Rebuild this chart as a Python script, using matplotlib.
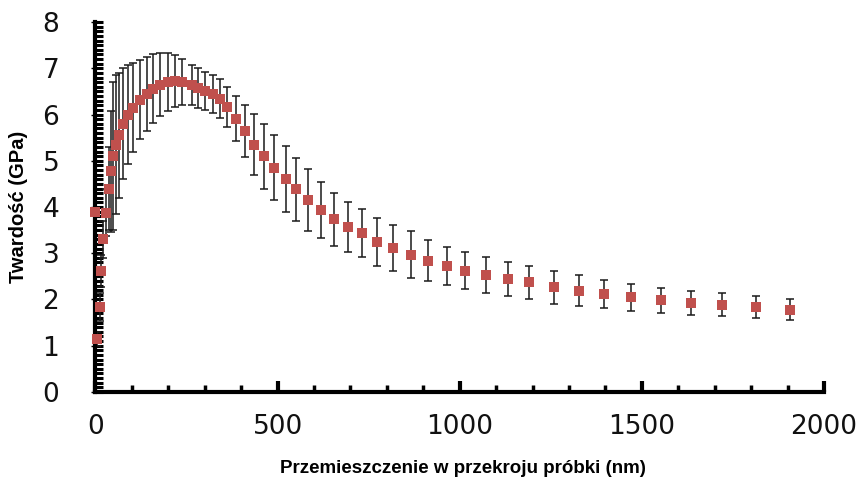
import matplotlib
matplotlib.use('Agg')
import matplotlib.pyplot as plt
from matplotlib.ticker import MultipleLocator

# depth across the sample cross-section (nm)
depth = [0, 5, 12, 14, 21, 29, 36, 43, 49, 56,
         65, 76, 90, 104, 122, 141, 159, 177, 200, 218,
         237, 264, 282, 301, 322, 342, 362, 386, 411, 436,
         463, 491, 522, 551, 584, 620, 655, 694, 732, 773,
         816, 866, 913, 965, 1015, 1073, 1133, 1191, 1260, 1327,
         1397, 1471, 1553, 1636, 1721, 1812, 1908]

# hardness (GPa)
hardness = [3.9, 1.15, 1.83, 2.62, 3.3, 3.88, 4.4, 4.77, 5.1, 5.35,
            5.55, 5.8, 6.0, 6.15, 6.32, 6.45, 6.56, 6.64, 6.7, 6.72,
            6.7, 6.64, 6.57, 6.51, 6.44, 6.34, 6.16, 5.91, 5.65, 5.35,
            5.1, 4.85, 4.61, 4.38, 4.16, 3.94, 3.73, 3.56, 3.43, 3.25,
            3.11, 2.97, 2.84, 2.72, 2.62, 2.53, 2.44, 2.37, 2.26, 2.19,
            2.12, 2.05, 1.98, 1.93, 1.89, 1.83, 1.78]

# standard deviation (GPa)
hardness_err = [0.05, 0.15, 0.3, 0.35, 0.4, 0.5, 0.9, 1.3, 1.6, 1.5,
                1.35, 1.2, 1.07, 0.96, 0.86, 0.8, 0.74, 0.68, 0.62, 0.56,
                0.5, 0.43, 0.43, 0.41, 0.41, 0.42, 0.44, 0.49, 0.56, 0.66,
                0.7, 0.7, 0.71, 0.69, 0.67, 0.6, 0.57, 0.54, 0.52, 0.52,
                0.5, 0.51, 0.45, 0.41, 0.4, 0.38, 0.36, 0.36, 0.35, 0.33,
                0.3, 0.29, 0.27, 0.26, 0.25, 0.24, 0.22]

x_ticks = [0, 500, 1000, 1500, 2000]
y_ticks = [0, 1, 2, 3, 4, 5, 6, 7, 8]

fig = plt.figure(figsize=(8.64, 4.97), dpi=100)
ax = fig.add_axes([0.1105, 0.2113, 0.8432, 0.7444])

# error bars first, squares on top
ax.errorbar(depth, hardness, yerr=hardness_err, fmt='none', ecolor='#1a1a1a',
            elinewidth=1.1, capsize=3, capthick=1.1, zorder=2)
ax.plot(depth, hardness, linestyle='none', marker='s', markersize=7.5,
        color='#C0504D', markeredgewidth=0, zorder=3, clip_on=False)

ax.set_xlim(0, 2000)
ax.set_ylim(0, 8)
ax.set_xticks(x_ticks)
ax.set_yticks(y_ticks)
ax.xaxis.set_minor_locator(MultipleLocator(100))
ax.yaxis.set_minor_locator(MultipleLocator(0.1))
ax.yaxis.remove_overlapping_locs = False

for side in ['top', 'right']:
    ax.spines[side].set_visible(False)
for side in ['left', 'bottom']:
    ax.spines[side].set_linewidth(3)
    ax.spines[side].set_color('black')

ax.tick_params(axis='x', which='major', direction='in', length=8, width=3, pad=16)
ax.tick_params(axis='x', which='minor', direction='in', length=5, width=2.5)
ax.tick_params(axis='y', which='major', direction='out', length=3, width=1, pad=23)
ax.tick_params(axis='y', which='minor', direction='in', length=6, width=2.2)

for lab in ax.get_xticklabels() + ax.get_yticklabels():
    lab.set_fontfamily('DejaVu Sans')
    lab.set_fontsize(19)
    lab.set_color('#111111')

ax.set_xlabel('Przemieszczenie w przekroju próbki (nm)', fontfamily='Liberation Sans',
              fontweight='bold', fontsize=13.5)
ax.set_ylabel('Twardość (GPa)', fontfamily='Liberation Sans',
              fontweight='bold', fontsize=14.5)
ax.xaxis.set_label_coords(0.505, -0.185)
ax.yaxis.set_label_coords(-0.092, 0.5)

fig.savefig('out.png', dpi=100, facecolor='white')
